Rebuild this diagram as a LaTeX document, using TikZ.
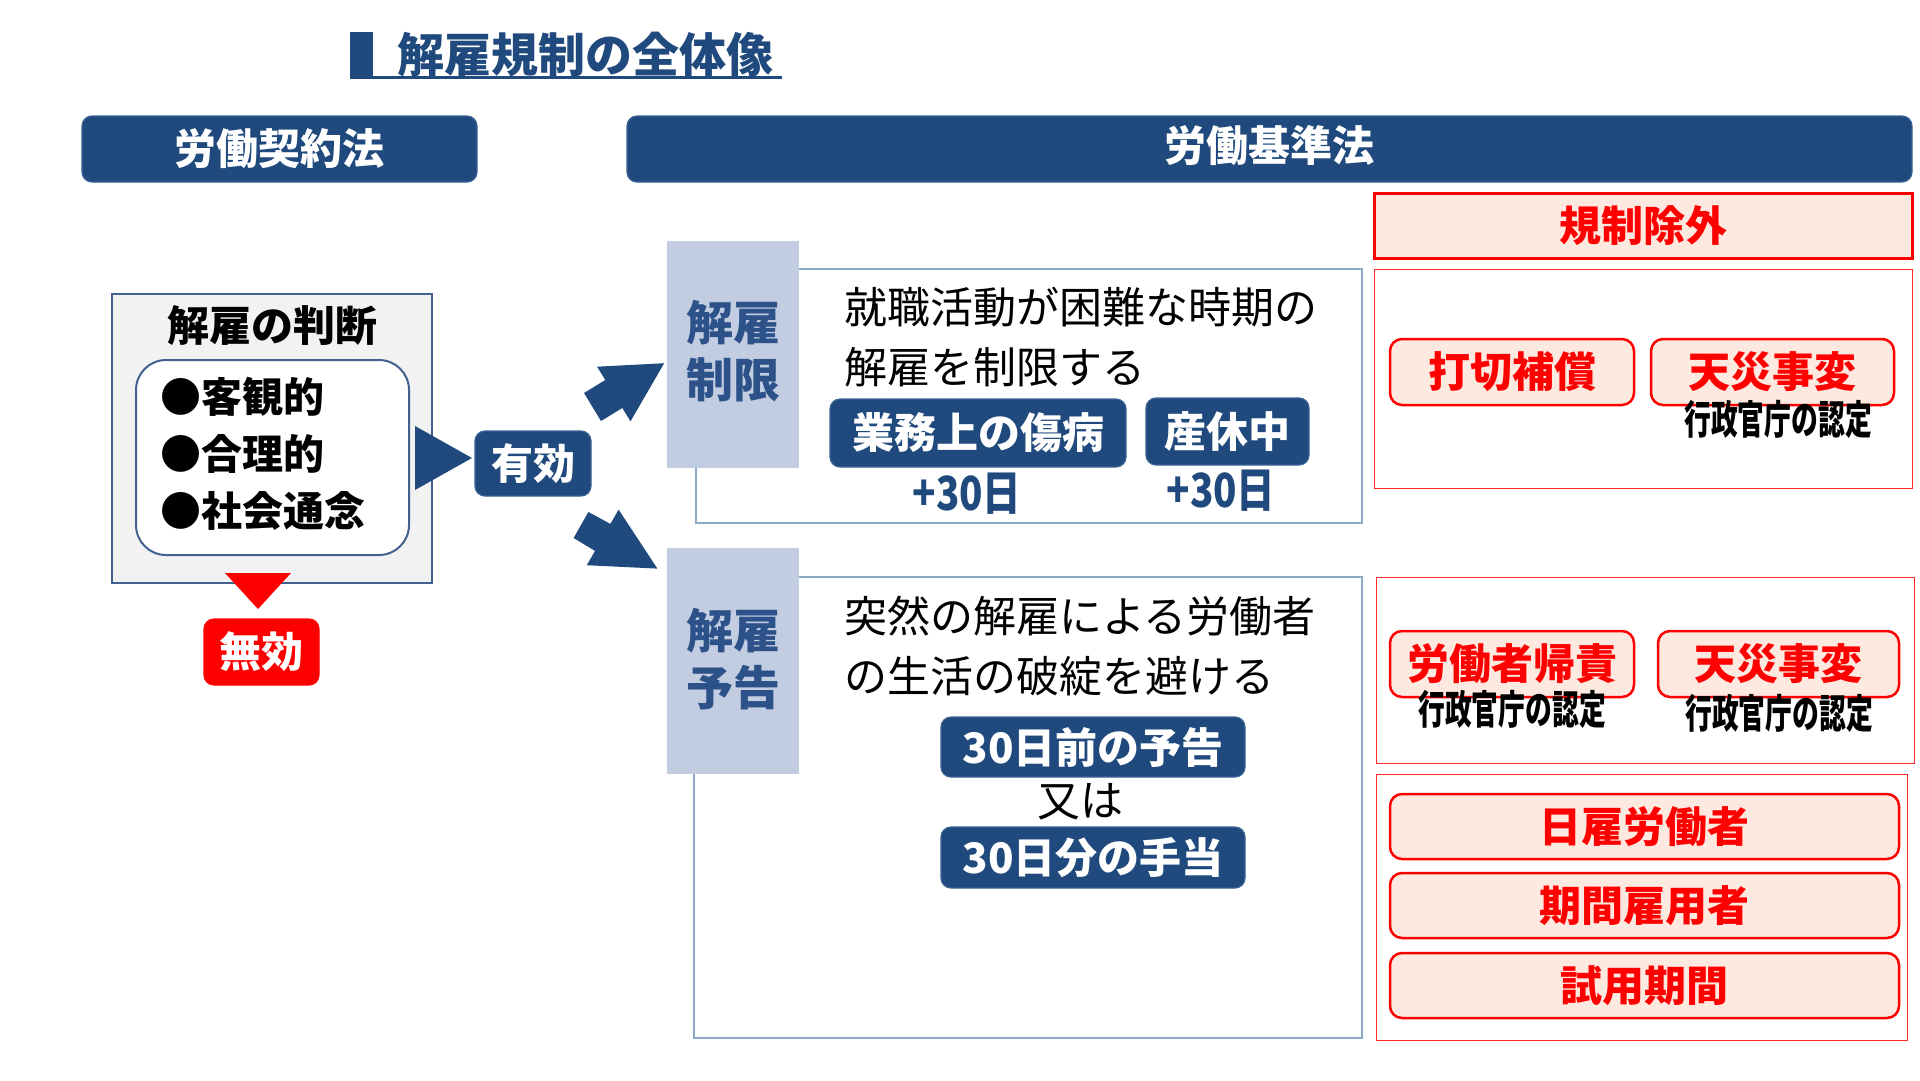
\documentclass[tikz,border=0pt]{standalone}
\usepackage{fontspec}
\usepackage{graphicx}
\setmainfont{Noto Sans CJK JP}
\newcommand{\fsz}[2][]{\fontsize{#2pt}{#2pt}\selectfont}
\definecolor{dblue}{HTML}{204A7D}
\definecolor{dbluedraw}{HTML}{3A6394}
\definecolor{lblue}{HTML}{C3CDE2}
\definecolor{lbltext}{HTML}{2C5289}
\definecolor{outl}{HTML}{8EA9C8}
\definecolor{peach}{HTML}{FDE9DF}
\definecolor{jred}{HTML}{FF0000}
\definecolor{jgray}{HTML}{F2F2F2}
\definecolor{jframe}{HTML}{41628F}
\tikzset{
  bluebox/.style={fill=dblue, draw=dbluedraw, line width=1.2pt, rounded corners=10pt, text=white, inner sep=0pt, font=\bfseries\fsz{42}},
  redbox/.style={fill=peach, draw=jred, line width=2.5pt, rounded corners=12pt, text=jred, inner sep=0pt, font=\bfseries\fsz{42}},
  redframe/.style={draw=jred!85!white, line width=1pt, fill=white},
  outline/.style={draw=outl, line width=1.5pt},
  lblbox/.style={fill=lblue, inner sep=0pt, text=lbltext, align=center, font=\bfseries\fontsize{47pt}{57pt}\selectfont},
  plain/.style={inner sep=0pt, font=\fsz{43}},
  note/.style={inner sep=0pt, font=\bfseries\fsz{40}},
  blockarrow/.style={fill=dblue, draw=none}
}
\begin{document}
\begin{tikzpicture}[x=1pt,y=-1pt]
\useasboundingbox[fill=white] (0,0) rectangle (1920,1080);

% title
\fill[dblue] (350,32) rectangle (373,77);
\node[inner sep=0pt, anchor=west, text=dblue, font=\bfseries\fsz{47}] (title) at (397,55) {解雇規制の全体像};
\draw[dblue, line width=2.5pt] (350,77.5) -- (782,77.5);

% header bars
\node[bluebox, minimum width=395pt, minimum height=66pt] (lcl) at (279.5,149) {労働契約法};
\node[bluebox, minimum width=1285pt, minimum height=66pt] (lsl) at (1269.5,149) {};
\node[inner sep=0pt, text=white, font=\bfseries\fsz{42}] (lsltext) at (1269,146) {労働基準法};

% judgement box
\node[fill=jgray, draw=jframe, line width=2pt, minimum width=320pt, minimum height=289pt, inner sep=0pt] (judge) at (272,438.5) {};
\node[inner sep=0pt, font=\bfseries\fsz{42}] (judgetitle) at (272,326) {解雇の判断};
\node[fill=white, draw=jframe, line width=2pt, rounded corners=30pt, minimum width=273pt, minimum height=195pt, inner sep=0pt] (crit) at (272.5,457.5) {};
\node[inner sep=0pt, anchor=west, font=\bfseries\fsz{41}] (c1) at (160,397) {●客観的};
\node[inner sep=0pt, anchor=west, font=\bfseries\fsz{41}] (c2) at (160,454) {●合理的};
\node[inner sep=0pt, anchor=west, font=\bfseries\fsz{41}] (c3) at (160,511) {●社会通念};

% triangle to valid
\fill[dblue] (415,426) -- (415,490) -- (472,458) -- cycle;
\node[bluebox, minimum width=116pt, minimum height=65pt] (valid) at (533,463.5) {有効};

% red triangle to invalid
\fill[jred] (225,573) -- (291,573) -- (258,609) -- cycle;
\node[bluebox, fill=jred, draw=jred, minimum width=115pt, minimum height=66pt] (invalid) at (261.5,652) {無効};

% block arrows
\fill[blockarrow] (584,393) -- (605.3,380) -- (597.1,366.7) -- (664.2,363.2) -- (630.5,421.3) -- (622.3,408) -- (601,421) -- cycle;
\fill[blockarrow] (588.4,512) -- (610.4,523.9) -- (618.6,509.6) -- (657.4,568.6) -- (586.8,565.2) -- (595,550.9) -- (573.6,538) -- cycle;

% upper section: dismissal restriction
\draw[outline] (696,269) rectangle (1362,523);
\node[lblbox, minimum width=132pt, minimum height=227pt] (lbl1box) at (733,354.5) {};
\node[lblbox] (lbl1) at (733,351) {解雇\\制限};
\node[plain, anchor=west] (t1a) at (844,307) {就職活動が困難な時期の};
\node[plain, anchor=west] (t1b) at (844,367) {解雇を制限する};
\node[bluebox, minimum width=296pt, minimum height=68pt] (injury) at (978,433) {業務上の傷病};
\node[bluebox, minimum width=163pt, minimum height=67pt] (leave) at (1227.5,431.5) {産休中};
\node[inner sep=0pt, text=dblue, font=\bfseries\fsz{47}] (p1) at (967,494) {\scalebox{0.82}[1]{+30日}};
\node[inner sep=0pt, text=dblue, font=\bfseries\fsz{47}] (p2) at (1221,491) {\scalebox{0.82}[1]{+30日}};

% lower section: dismissal notice
\draw[outline] (694,577) rectangle (1362,1038);
\node[lblbox, minimum width=132pt, minimum height=226pt] (lbl2box) at (733,661) {};
\node[lblbox] (lbl2) at (733,659) {解雇\\予告};
\node[plain, anchor=west] (t2a) at (844,616) {突然の解雇による労働者};
\node[plain, anchor=west] (t2b) at (844,676) {の生活の破綻を避ける};
\node[bluebox, minimum width=304pt, minimum height=60pt] (notice) at (1093,747) {30日前の予告};
\node[plain] (or) at (1080,802) {又は};
\node[bluebox, minimum width=304pt, minimum height=61pt] (allow) at (1093,857.5) {30日分の手当};

% right side: exclusions
\node[redbox, rounded corners=0pt, line width=3pt, minimum width=538pt, minimum height=65pt] (excl) at (1643,225.5) {規制除外};
\draw[redframe] (1374,269) rectangle (1912,488);
\node[redbox, minimum width=244pt, minimum height=66pt] (comp) at (1512,372) {打切補償};
\node[redbox, minimum width=243pt, minimum height=66pt] (dis1) at (1772.5,372) {天災事変};
\node[note] (auth1) at (1778,419) {\scalebox{0.67}[1]{行政官庁の認定}};

\draw[redframe] (1376,577) rectangle (1914,763);
\node[redbox, minimum width=244pt, minimum height=66pt] (fault) at (1512,664) {労働者帰責};
\node[note] (auth2) at (1512,709) {\scalebox{0.67}[1]{行政官庁の認定}};
\node[redbox, minimum width=241pt, minimum height=66pt] (dis2) at (1778.5,664) {天災事変};
\node[note] (auth3) at (1779,713) {\scalebox{0.67}[1]{行政官庁の認定}};

\draw[redframe] (1376,774) rectangle (1907,1040);
\node[redbox, minimum width=509pt, minimum height=65pt] (day) at (1644.5,826.5) {日雇労働者};
\node[redbox, minimum width=509pt, minimum height=65pt] (term) at (1644.5,905.5) {期間雇用者};
\node[redbox, minimum width=509pt, minimum height=65pt] (trial) at (1644.5,985.5) {試用期間};
\end{tikzpicture}
\end{document}
